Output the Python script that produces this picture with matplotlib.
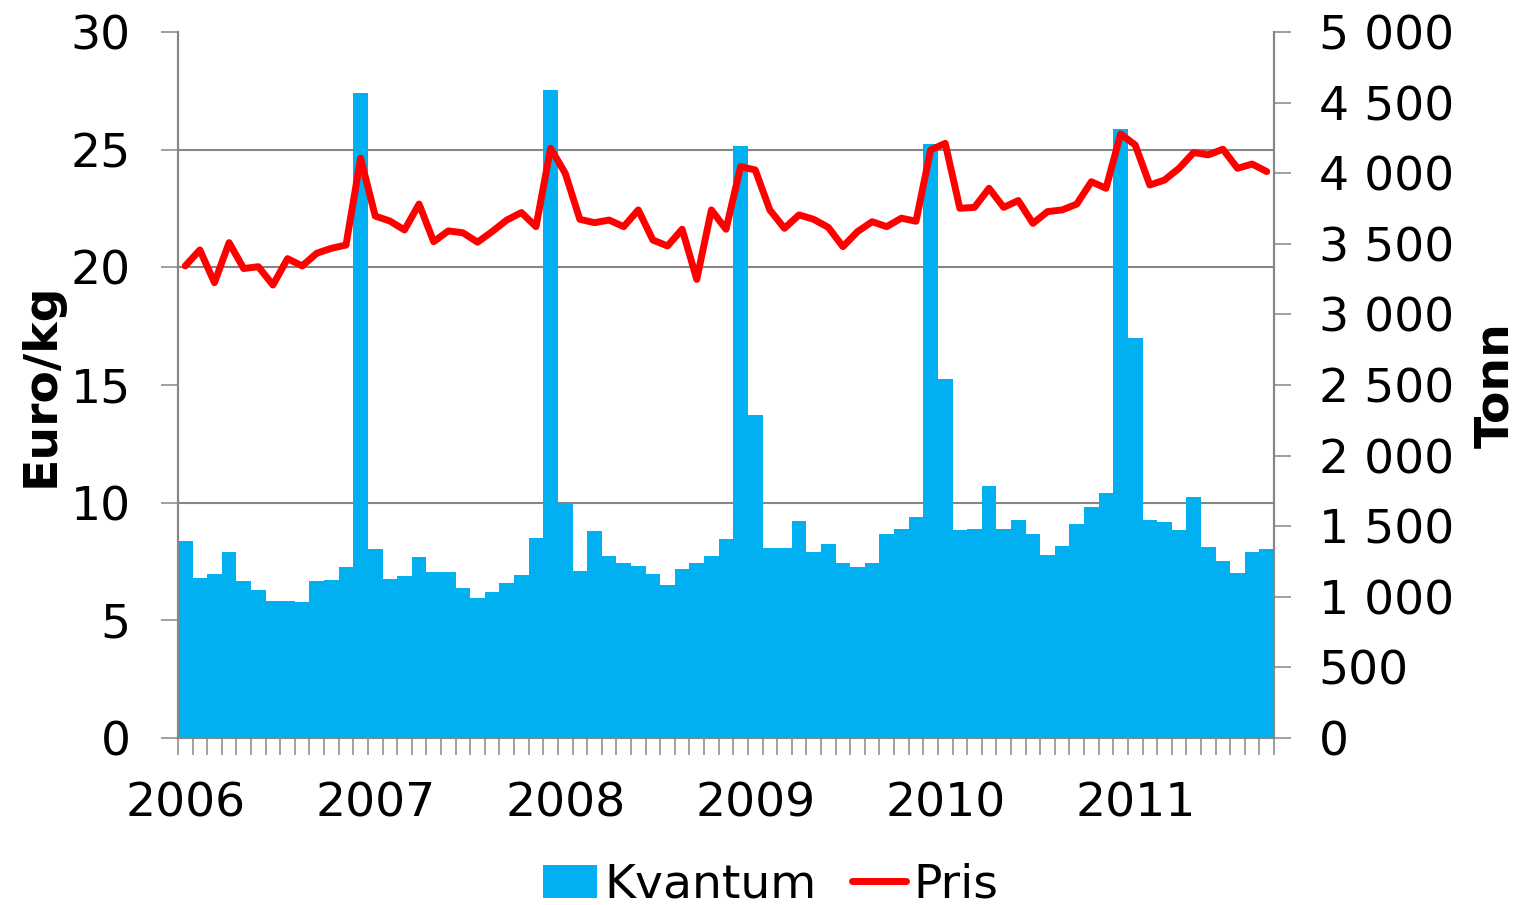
import numpy as np
import matplotlib
matplotlib.use("Agg")
import matplotlib.pyplot as plt
from matplotlib.ticker import FixedLocator, FuncFormatter, MultipleLocator
from matplotlib.patches import Patch
from matplotlib.lines import Line2D

# 13 four-week periods per year, 2006 - period 10 of 2011
years = ['2006', '2007', '2008', '2009', '2010', '2011']
periods_per_year = 13

kvantum = [1397, 1135, 1161, 1317, 1110, 1046, 972, 972, 963, 1110, 1119, 1209, 4568,
           1336, 1126, 1145, 1282, 1173, 1173, 1062, 991, 1034, 1098, 1154, 1416, 4589,
           1662, 1183, 1464, 1289, 1237, 1218, 1161, 1081, 1199, 1237, 1289, 1409, 4193,
           2288, 1346, 1346, 1535, 1317, 1372, 1237, 1209, 1237, 1445, 1480, 1563, 4207,
           2542, 1471, 1480, 1782, 1480, 1544, 1442, 1298, 1362, 1518, 1634, 1735, 4313,
           2833, 1544, 1530, 1471, 1707, 1353, 1256, 1171, 1317, 1336]

pris = [20.06, 20.74, 19.35, 21.05, 19.95, 20.03, 19.25, 20.37, 20.06, 20.60, 20.81, 20.95, 24.64,
        22.18, 21.97, 21.59, 22.69, 21.09, 21.55, 21.47, 21.07, 21.52, 22.01, 22.33, 21.73, 25.06,
        24.00, 22.04, 21.90, 22.01, 21.73, 22.44, 21.16, 20.91, 21.62, 19.49, 22.44, 21.62, 24.28,
        24.14, 22.44, 21.66, 22.23, 22.04, 21.70, 20.88, 21.52, 21.94, 21.73, 22.09, 21.96, 24.99,
        25.27, 22.51, 22.55, 23.36, 22.55, 22.84, 21.87, 22.37, 22.44, 22.69, 23.64, 23.36, 25.67,
        25.20, 23.50, 23.71, 24.21, 24.88, 24.78, 25.02, 24.21, 24.39, 24.07]

BLUE = '#00B0F0'
GREY = '#868686'
FS = 34

plt.rcParams['font.family'] = ['DejaVu Sans']

n = len(kvantum)
x = np.arange(n)

fig = plt.figure(figsize=(15.26, 9.05), dpi=100)
ax_bar = fig.add_axes([0.1166, 0.1845, 0.7183, 0.7801])
ax_line = ax_bar.twinx()

# bars (tonn) on the right axis
ax_bar.bar(x, kvantum, width=1.0, color=BLUE, edgecolor='none', zorder=2)
ax_bar.set_ylim(0, 5000)
ax_bar.set_xlim(-0.5, n - 0.5)
ax_bar.yaxis.tick_right()
ax_bar.yaxis.set_label_position('right')
ax_bar.yaxis.set_major_locator(MultipleLocator(500))
ax_bar.yaxis.set_major_formatter(FuncFormatter(lambda v, p: f"{int(v):,}".replace(',', ' ')))
ax_bar.set_ylabel('Tonn', fontsize=FS, fontweight='bold', labelpad=14)

# price line on the left axis
ax_line.plot(x, pris, color='#FF0000', lw=5, solid_joinstyle='round', solid_capstyle='round', zorder=3)
ax_line.set_ylim(0, 30)
ax_line.yaxis.tick_left()
ax_line.yaxis.set_label_position('left')
ax_line.yaxis.set_major_locator(MultipleLocator(5))
ax_line.set_ylabel('Euro/kg', fontsize=FS, fontweight='bold', labelpad=5)

# horizontal gridlines follow the Euro axis, drawn behind the bars
ax_bar.yaxis.set_minor_locator(FixedLocator(np.linspace(0, 5000, 7)))
ax_bar.grid(True, which='minor', axis='y', color=GREY, lw=1.5, zorder=0)
ax_bar.tick_params(axis='y', which='minor', length=0)
ax_bar.set_axisbelow(True)

# x axis: a tick at every period boundary, year labels on first period
ax_bar.xaxis.set_major_locator(FixedLocator(np.arange(n + 1) - 0.5))
ax_bar.xaxis.set_major_formatter(FuncFormatter(lambda v, p: ''))
ax_bar.xaxis.set_minor_locator(FixedLocator(np.arange(len(years)) * periods_per_year))
ax_bar.set_xticklabels(years, minor=True)
ax_bar.tick_params(axis='x', which='major', length=12, width=1.1, color=GREY, direction='out')
ax_bar.tick_params(axis='x', which='minor', length=0, labelsize=FS, pad=31)

ax_bar.tick_params(axis='y', which='major', length=12, width=1.1, color=GREY,
                   direction='out', labelsize=FS, pad=20)
ax_line.tick_params(axis='y', which='major', length=12, width=1.1, color=GREY,
                    direction='out', labelsize=FS, pad=22)

for a in (ax_bar, ax_line):
    for side, sp in a.spines.items():
        sp.set_color(GREY)
        sp.set_linewidth(1.5)
    a.spines['top'].set_visible(False)

ax_line.set_zorder(ax_bar.get_zorder() + 1)
ax_line.patch.set_visible(False)

handles = [Patch(facecolor=BLUE, edgecolor='none', label='Kvantum'),
           Line2D([0], [0], color='#FF0000', lw=5, solid_capstyle='round', label='Pris')]
fig.legend(handles=handles, loc='lower center', bbox_to_anchor=(0.505, -0.05), ncol=2,
           frameon=False, fontsize=FS, handlelength=1.15, handletextpad=0.15,
           columnspacing=0.75)

fig.savefig('out.png', dpi=100)
